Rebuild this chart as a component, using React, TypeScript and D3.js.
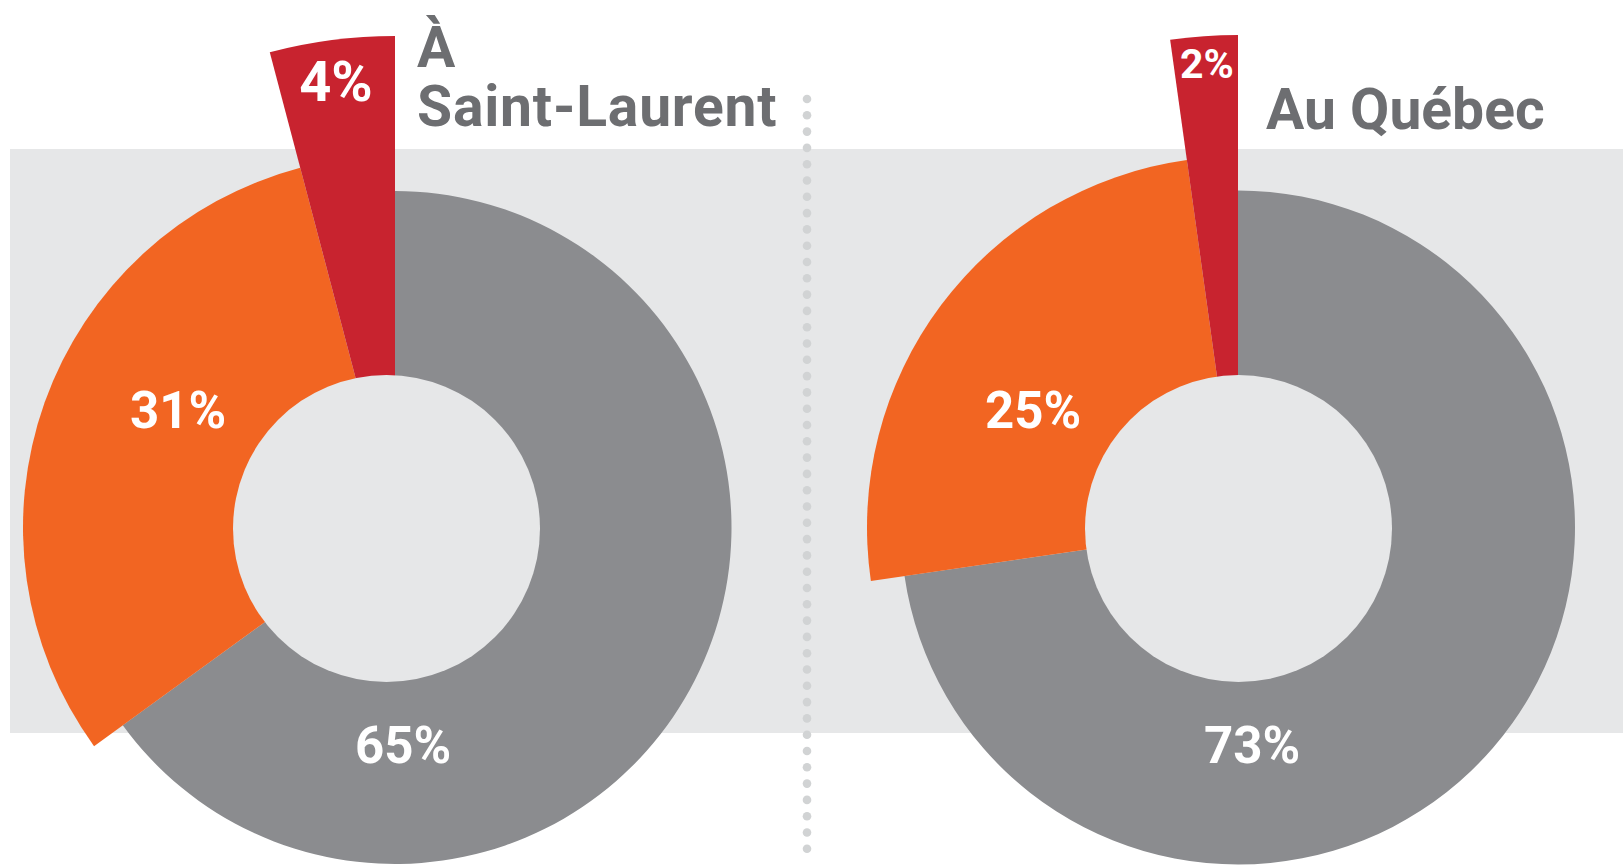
import React from "react";
import * as d3 from "d3";

const categories = ["Catégorie A", "Catégorie B", "Catégorie C"];
const saintLaurentValues = [65, 30.9, 4.1];
const saintLaurentLabels = ["65%", "31%", "4%"];
const quebecValues = [72.7, 25.1, 2.2];
const quebecLabels = ["73%", "25%", "2%"];
const titles = [["À", "Saint-Laurent"], ["Au Québec"]];
const colors = ["#8b8c8f", "#f26522", "#c8232f"];

const W = 1623;
const H = 866;

type PanelProps = {
  values: number[];
  labels: string[];
  cx: number;
  cy: number;
  holeDx: number;
  radii: number[];
  labelPos: [number, number][];
  labelSizes: number[];
};

function Donut({ values, labels, cx, cy, holeDx, radii, labelPos, labelSizes }: PanelProps) {
  const pie = d3.pie<number>().sort(null).value((d) => d);
  const arcs = pie(values);
  return (
    <g>
      {arcs.map((a, i) => {
        const path = d3.arc<d3.PieArcDatum<number>>().innerRadius(0).outerRadius(radii[i])(a) || "";
        return <path key={categories[i]} d={path} transform={`translate(${cx},${cy})`} fill={colors[i]} />;
      })}
      <circle cx={cx + holeDx} cy={cy + 1} r={153.5} fill="#e6e7e8" />
      {arcs.map((a, i) => (
        <text
          key={"l" + i}
          x={labelPos[i][0]}
          y={labelPos[i][1]}
          textAnchor="middle"
          fill="#ffffff"
          fontFamily="Roboto, 'DejaVu Sans', sans-serif"
          fontWeight={700}
          fontSize={labelSizes[i]}
        >
          {labels[i]}
        </text>
      ))}
    </g>
  );
}

export default function App() {
  const dotYs = d3.range(99, 856, 16.3);
  const titleFont = "Roboto, 'DejaVu Sans', sans-serif";
  return (
    <svg width={W} height={H} style={{ position: "absolute", left: 0, top: 0, background: "#ffffff" }}>
      <rect x={10} y={149} width={W - 10} height={733 - 149} fill="#e6e7e8" />
      <Donut
        values={saintLaurentValues}
        labels={saintLaurentLabels}
        cx={395}
        cy={527.5}
        holeDx={-8.5}
        radii={[336.5, 372, 491.5]}
        labelPos={[[403, 763], [178, 428], [336, 101]]}
        labelSizes={[51, 51, 56]}
      />
      <Donut
        values={quebecValues}
        labels={quebecLabels}
        cx={1238}
        cy={527.5}
        holeDx={0.5}
        radii={[337, 371, 492.5]}
        labelPos={[[1252, 763], [1033, 428], [1207, 78]]}
        labelSizes={[51, 51, 41]}
      />
      {dotYs.map((y, i) => (
        <circle key={"d" + i} cx={807} cy={y} r={4.3} fill="#d1d3d4" />
      ))}
      <text x={417} y={67} fill="#6d6e71" fontFamily={titleFont} fontWeight={700} fontSize={57}>
        {titles[0][0]}
      </text>
      <text x={417} y={126} fill="#6d6e71" fontFamily={titleFont} fontWeight={700} fontSize={57} letterSpacing={0.8}>
        {titles[0][1]}
      </text>
      <text x={1266} y={129} fill="#6d6e71" fontFamily={titleFont} fontWeight={700} fontSize={57}>
        {titles[1][0]}
      </text>
    </svg>
  );
}
